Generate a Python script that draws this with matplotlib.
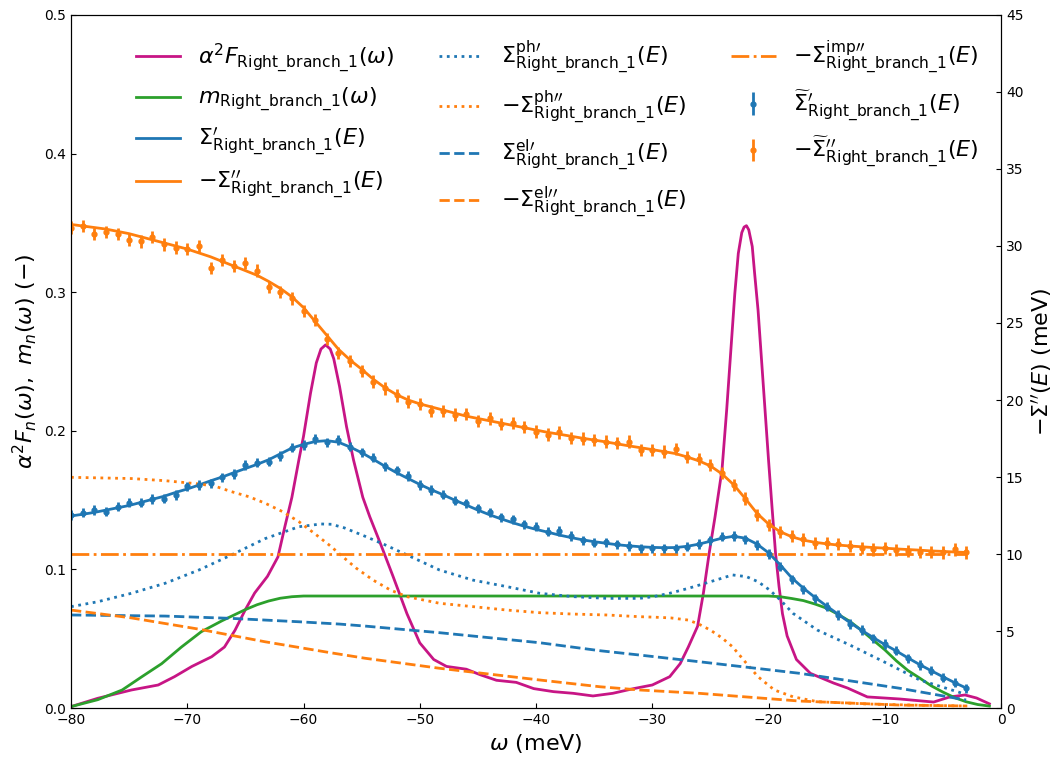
import numpy as np
import matplotlib
matplotlib.use('Agg')
import matplotlib.pyplot as plt

# Eliashberg function and mass enhancement (left axis, unitless)
w_a2f = [-80, -77.7, -74.8, -72.5, -71.1, -69.6, -67.9, -66.8, -65.9, -65.0,
         -64.2, -63.1, -62.2, -61.6, -61.0, -60.4, -60.0, -59.4, -58.9, -58.5,
         -58.1, -57.7, -57.4, -56.9, -56.3, -55.7, -54.9, -54.3, -53.4, -52.3,
         -51.1, -50.0, -48.8, -47.7, -46.0, -44.8, -43.4, -41.7, -40.2, -38.5,
         -36.8, -35.1, -33.4, -31.6, -30.0, -28.5, -27.6, -26.9, -26.1, -25.6,
         -25.1, -24.6, -24.0, -23.6, -23.2, -22.9, -22.6, -22.3, -22.1, -21.9,
         -21.7, -21.4, -21.2, -20.9, -20.6, -20.3, -20.0, -19.7, -19.4, -19.1,
         -18.8, -18.4, -17.6, -16.4, -14.4, -13.2, -11.5, -8.7, -5.8, -4.4,
         -3.1, -2.1, -1.0]
a2f = [0.001, 0.007, 0.013, 0.0166, 0.0226, 0.030, 0.037, 0.044, 0.056, 0.071,
       0.083, 0.095, 0.109, 0.131, 0.152, 0.179, 0.196, 0.227, 0.249, 0.259,
       0.262, 0.259, 0.252, 0.232, 0.203, 0.179, 0.152, 0.138, 0.119, 0.095,
       0.068, 0.047, 0.035, 0.030, 0.028, 0.024, 0.020, 0.0185, 0.014, 0.0118,
       0.0106, 0.0087, 0.0106, 0.014, 0.0166, 0.0226, 0.032, 0.044, 0.059, 0.083,
       0.112, 0.138, 0.172, 0.215, 0.263, 0.299, 0.328, 0.343, 0.347, 0.348,
       0.345, 0.333, 0.314, 0.287, 0.251, 0.215, 0.179, 0.145, 0.112, 0.088,
       0.068, 0.052, 0.035, 0.025, 0.018, 0.0144, 0.008, 0.0065, 0.0043, 0.008,
       0.0094, 0.0072, 0.003]

w_m = [-80, -77.7, -75.6, -73.9, -72.2, -70.5, -68.8, -67.0, -66.0, -65.0,
       -64, -63, -62, -61, -60, -20, -19, -18, -17, -16,
       -15, -14, -13, -12, -11, -10, -9, -8, -7, -6,
       -5, -4, -3, -2, -1]
m_w = [0.001, 0.006, 0.013, 0.0226, 0.032, 0.044, 0.055, 0.063, 0.067, 0.071,
       0.0745, 0.0772, 0.0792, 0.0803, 0.0808, 0.0808, 0.0803, 0.079, 0.0775, 0.075,
       0.072, 0.0675, 0.0625, 0.056, 0.049, 0.042, 0.034, 0.027, 0.0216, 0.016,
       0.0115, 0.0075, 0.0045, 0.0025, 0.0014]

# self-energy fits and data (right axis, meV)
E = np.arange(-80, -2)
sig1_fit = [12.47, 12.58, 12.7, 12.85, 13.0, 13.15, 13.35, 13.55, 13.75, 14.0,
            14.22, 14.48, 14.75, 15.0, 15.28, 15.55, 15.82, 16.12, 16.5, 16.88,
            17.12, 17.3, 17.36, 17.26, 16.95, 16.58, 16.15, 15.7, 15.28, 14.9,
            14.52, 14.17, 13.85, 13.5, 13.18, 12.85, 12.55, 12.28, 12.03, 11.8,
            11.6, 11.42, 11.23, 11.07, 10.92, 10.8, 10.7, 10.6, 10.53, 10.47,
            10.43, 10.41, 10.42, 10.5, 10.64, 10.83, 11.03, 11.15, 11.03, 10.65,
            10.08, 9.3, 8.45, 7.78, 7.18, 6.62, 6.08, 5.55, 5.05, 4.58,
            4.12, 3.7, 3.25, 2.82, 2.42, 2.03, 1.65, 1.3]
sig1_dat = [12.53, 12.68, 12.86, 12.75, 13.07, 13.33, 13.33, 13.57, 13.6, 13.83,
            14.4, 14.48, 14.6, 14.98, 15.2, 15.78, 15.93, 16.0, 16.36, 16.9,
            17.08, 17.47, 17.25, 17.4, 16.97, 16.6, 16.25, 15.7, 15.43, 15.06,
            14.48, 14.16, 13.86, 13.46, 13.29, 12.97, 12.7, 12.38, 12.25, 11.93,
            11.77, 11.45, 11.49, 11.17, 10.9, 10.73, 10.75, 10.64, 10.52, 10.37,
            10.37, 10.37, 10.37, 10.48, 10.65, 10.9, 11.12, 11.17, 10.95, 10.58,
            10.0, 9.18, 8.36, 7.71, 7.12, 6.58, 6.04, 5.45, 5.06, 4.52,
            4.16, 3.72, 3.23, 2.79, 2.42, 1.97, 1.64, 1.28]
sig2_fit = [31.4, 31.3, 31.2, 31.1, 30.95, 30.8, 30.6, 30.4, 30.2, 30.0,
            29.8, 29.55, 29.3, 29.0, 28.7, 28.4, 28.1, 27.7, 27.25, 26.7,
            26.0, 25.1, 24.2, 23.3, 22.6, 22.0, 21.35, 20.8, 20.35, 20.0,
            19.75, 19.55, 19.35, 19.15, 18.95, 18.8, 18.65, 18.5, 18.35, 18.2,
            18.05, 17.9, 17.78, 17.65, 17.52, 17.4, 17.28, 17.15, 17.02, 16.9,
            16.78, 16.65, 16.52, 16.3, 16.05, 15.72, 15.2, 14.5, 13.6, 12.65,
            11.95, 11.45, 11.12, 10.9, 10.76, 10.66, 10.58, 10.52, 10.47, 10.42,
            10.38, 10.33, 10.29, 10.25, 10.2, 10.17, 10.13, 10.1]
sig2_dat = [31.2, 31.3, 30.8, 30.9, 30.8, 30.4, 30.3, 30.6, 30.1, 29.9,
            29.8, 30.0, 28.55, 29.1, 28.7, 28.9, 28.4, 27.35, 27.0, 26.6,
            25.8, 25.2, 23.95, 23.05, 22.55, 21.9, 21.2, 20.75, 20.3, 19.9,
            19.75, 19.3, 19.3, 19.05, 19.1, 18.65, 18.8, 18.45, 18.5, 18.25,
            17.95, 17.75, 17.9, 17.55, 17.5, 17.4, 17.3, 17.2, 17.3, 16.75,
            16.75, 16.65, 16.8, 16.3, 16.15, 15.8, 15.25, 14.5, 13.6, 12.55,
            11.9, 11.45, 11.15, 10.95, 10.7, 10.7, 10.65, 10.5, 10.4, 10.3,
            10.4, 10.25, 10.2, 10.15, 10.13, 10.1, 10.3, 10.1]
err1 = 0.3
err2 = 0.4

# phonon, electron and impurity contributions
w_ph1 = [-80, -77.7, -74.8, -71.9, -69.0, -66.2, -63.3, -60.4, -58.5, -57.6,
         -56.5, -54.7, -53, -51.1, -48.3, -45.4, -42.5, -39.7, -36.8, -33.9,
         -31.1, -29.9, -28.5, -26.9, -25.0, -23.1, -21.9, -20.9, -19.9, -18.9,
         -17.9, -15.8, -13.0, -9.8, -7.0, -3.3]
ph1 = [6.58, 6.9, 7.45, 8.1, 8.96, 9.94, 11.0, 11.77, 11.95, 11.93,
       11.7, 11.15, 10.6, 9.94, 8.96, 8.3, 7.88, 7.45, 7.23, 7.12,
       7.12, 7.23, 7.45, 7.77, 8.2, 8.64, 8.53, 8.2, 7.66, 6.95,
       6.15, 5.06, 4.09, 2.9, 1.82, 0.95]
w_ph2 = [-80, -74.8, -71.9, -69.0, -67.6, -66.2, -64.7, -63.3, -61.8, -60.4,
         -59.0, -57.6, -56.9, -55.5, -54.0, -52.5, -51.1, -48.3, -45.4, -42.5,
         -39.7, -36.8, -33.9, -31.1, -29.9, -28.4, -26.9, -26.0, -25.0, -24.0,
         -23.1, -21.9, -20.9, -19.5, -17.9, -15.8, -11.5, -7, -3]
ph2 = [14.98, 14.9, 14.76, 14.55, 14.4, 14.05, 13.72, 13.3, 12.75, 12.1,
       11.3, 10.47, 10.0, 9.1, 8.3, 7.65, 7.23, 6.8, 6.58, 6.36,
       6.19, 6.1, 6.04, 5.93, 5.9, 5.85, 5.71, 5.45, 5.06, 4.55,
       3.98, 2.9, 2.03, 1.17, 0.73, 0.41, 0.26, 0.18, 0.13]
w_el1 = [-80, -71.9, -66.2, -60.4, -56.9, -54.7, -48.3, -39.7, -34.5, -31.1,
         -25.9, -17.3, -8.7, -3.0]
el1 = [6.04, 5.97, 5.82, 5.6, 5.45, 5.32, 4.89, 4.24, 3.72, 3.44,
       3.0, 2.25, 1.28, 0.52]
w_el2 = [-80, -74.8, -69.0, -63.3, -57.6, -54.7, -48.3, -39.7, -34.5, -31.1,
         -25.9, -17.3, -8.7, -2.9]
el2 = [6.36, 5.85, 5.12, 4.3, 3.58, 3.23, 2.58, 1.82, 1.38, 1.17,
       0.95, 0.45, 0.19, 0.13]
w_imp = [-80, -3]
imp2 = [10.0, 10.0]

sub = r'_{\mathrm{Right\_branch\_1}}'

fig, ax = plt.subplots(figsize=(10.63, 7.65), dpi=100)
fig.subplots_adjust(left=0.0668, right=0.9417, bottom=0.0745, top=0.9804)
ax2 = ax.twinx()

l1, = ax.plot(w_a2f, a2f, color='#c71585', lw=2, label=r'$\alpha^2F' + sub + r'(\omega)$')
l2, = ax.plot(w_m, m_w, color='tab:green', lw=2, label=r'$m' + sub + r'(\omega)$')

l3, = ax2.plot(E, sig1_fit, color='tab:blue', lw=2, label=r'$\Sigma^{\prime}' + sub + r'(E)$')
l4, = ax2.plot(E, sig2_fit, color='tab:orange', lw=2, label=r'$-\Sigma^{\prime\prime}' + sub + r'(E)$')
l5, = ax2.plot(w_ph1, ph1, color='tab:blue', lw=2, ls=':', label=r'$\Sigma^{\mathrm{ph}\prime}' + sub + r'(E)$')
l6, = ax2.plot(w_ph2, ph2, color='tab:orange', lw=2, ls=':', label=r'$-\Sigma^{\mathrm{ph}\prime\prime}' + sub + r'(E)$')
l7, = ax2.plot(w_el1, el1, color='tab:blue', lw=2, ls='--', label=r'$\Sigma^{\mathrm{el}\prime}' + sub + r'(E)$')
l8, = ax2.plot(w_el2, el2, color='tab:orange', lw=2, ls='--', label=r'$-\Sigma^{\mathrm{el}\prime\prime}' + sub + r'(E)$')
l9, = ax2.plot(w_imp, imp2, color='tab:orange', lw=2, ls='-.', label=r'$-\Sigma^{\mathrm{imp}\prime\prime}' + sub + r'(E)$')
e1 = ax2.errorbar(E, sig1_dat, yerr=err1, fmt='o', ms=3.5, color='tab:blue', elinewidth=2, capsize=0,
                  label=r'$\widetilde{\Sigma}^{\prime}' + sub + r'(E)$')
e2 = ax2.errorbar(E, sig2_dat, yerr=err2, fmt='o', ms=3.5, color='tab:orange', elinewidth=2, capsize=0,
                  label=r'$-\widetilde{\Sigma}^{\prime\prime}' + sub + r'(E)$')

ax.set_xlim(-80, 0)
ax.set_ylim(0, 0.5)
ax2.set_ylim(0, 45)
ax.set_xlabel(r'$\omega$ (meV)', fontsize=16)
ax.set_ylabel(r'$\alpha^2F_n(\omega),\ m_n(\omega)\ (-)$', fontsize=16)
ax2.set_ylabel(r"$-\Sigma''(E)$ (meV)", fontsize=16)
ax.tick_params(direction='in')
ax2.tick_params(direction='in')

handles = [l1, l2, l3, l4, l5, l6, l7, l8, l9, e1, e2]
ax2.legend(handles, [h.get_label() for h in handles], ncol=3, loc='upper center',
           bbox_to_anchor=(0.523, 0.995), frameon=False, fontsize=16)

plt.savefig('out.png')
